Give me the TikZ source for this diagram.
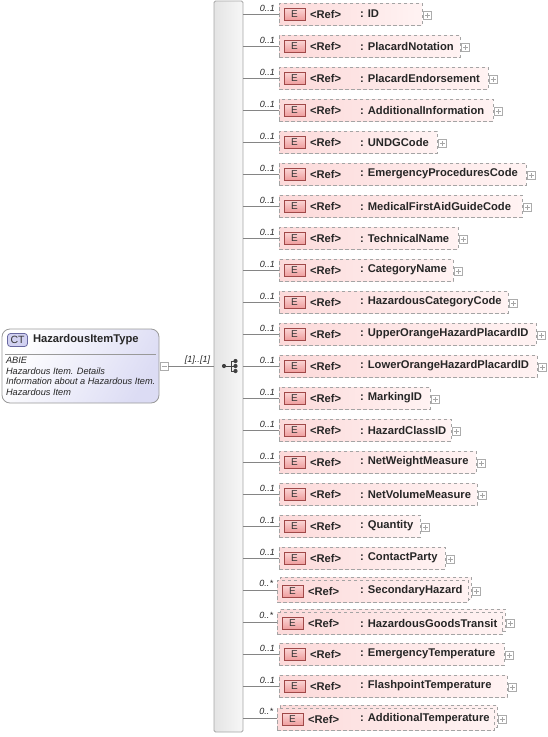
\documentclass[tikz,border=0pt]{standalone}
\usepackage{fontspec}
\setmainfont{Liberation Sans}
\definecolor{pinkL}{HTML}{FCDADA}
\definecolor{pinkR}{HTML}{FFF3F3}
\definecolor{dashgray}{HTML}{A4A4A4}
\definecolor{eBorder}{HTML}{A04848}
\definecolor{eTop}{HTML}{FAD4D4}
\definecolor{eBot}{HTML}{EE9C9C}
\definecolor{ctR}{HTML}{DCDCF4}
\definecolor{ctIcon}{HTML}{D2D2F2}
\definecolor{ctIconB}{HTML}{6868A0}
\definecolor{connGray}{HTML}{858585}
\definecolor{seqL}{HTML}{E4E4E4}
\definecolor{seqR}{HTML}{F7F7F7}
\begin{document}
\begin{tikzpicture}[x=1pt,y=-1pt,
  every node/.style={inner sep=0pt, outer sep=0pt},
  elbox/.style={draw=dashgray, line width=0.8pt, dash pattern=on 3.5pt off 2.5pt, left color=pinkL, right color=pinkR, minimum height=22pt},
  eicon/.style={draw=eBorder, line width=0.8pt, top color=eTop, bottom color=eBot, minimum width=21pt, minimum height=12pt, font=\fontsize{10}{10}\selectfont, text=black!80},
  reftxt/.style={font=\bfseries\fontsize{11.2}{13}\selectfont, text=black!85, anchor=west},
  card/.style={font=\itshape\fontsize{9}{10}\selectfont, text=black!85, anchor=south east},
  plusbox/.style={draw=gray!65, line width=0.6pt, fill=white, minimum size=8pt},
  conn/.style={draw=connGray, line width=0.8pt},
  seqbar/.style={draw=gray!70, line width=0.8pt, left color=seqL, right color=seqR, rounded corners=1.5pt},
  ctbox/.style={draw=gray!80, line width=0.8pt, rounded corners=8pt, top color=white, bottom color=ctR, shading angle=60},
  cticon/.style={draw=ctIconB, line width=0.8pt, fill=ctIcon, rounded corners=3pt, minimum width=20pt, minimum height=13pt, font=\fontsize{10.5}{11}\selectfont, text=black!80},
  desc/.style={font=\itshape\fontsize{9.2}{10}\selectfont, text=black!85, anchor=west},
]
\useasboundingbox (0,0) rectangle (548,737);
% sequence bar
\node[seqbar, minimum width=29pt, minimum height=731pt] (seq) at (228.5,366.5) {};
% sequence icon
\begin{scope}[fill=black!75, draw=black!75, line width=0.9pt]
  \fill (224,366) circle (2.1);
  \draw (224,366) -- (231,366);
  \draw (231,361) -- (231,371);
  \draw (231,361) -- (235,361);
  \draw (231,371) -- (235,371);
  \draw (231,366) -- (235,366);
  \fill (235.5,361) circle (2.1);
  \fill (235.5,366) circle (2.1);
  \fill (235.5,371) circle (2.1);
\end{scope}
% complex type box
\node[ctbox, minimum width=157pt, minimum height=74pt] (ct) at (80.5,366) {};
\node[cticon] (cti) at (17.5,340) {CT};
\node[reftxt] (ctt) at (33,340) {HazardousItemType};
\draw[gray!80, line width=0.7pt] (5,354) -- (156,354);
\node[desc] (d1) at (6,360.5) {ABIE};
\node[desc] (d2) at (6,371) {Hazardous Item. Details};
\node[desc] (d3) at (6,381.5) {Information about a Hazardous Item.};
\node[desc] (d4) at (6,392) {Hazardous Item};
\node[plusbox] (mn) at (164,366) {};
\draw[gray!70, line width=0.7pt] ([xshift=-2.5pt]mn.center) -- ([xshift=2.5pt]mn.center);
\draw[conn] (mn.east) -- (seq.west |- mn.east);
\node[card] (cc) at (210,364) {[1]..[1]};
% elements
\foreach \i/\nm/\r/\m in {0/ID/422/1, 1/PlacardNotation/460/1, 2/PlacardEndorsement/488/1,
  3/AdditionalInformation/493/1, 4/UNDGCode/437/1, 5/EmergencyProceduresCode/526/1,
  6/MedicalFirstAidGuideCode/522/1, 7/TechnicalName/458/1, 8/CategoryName/453/1,
  9/HazardousCategoryCode/508/1, 10/UpperOrangeHazardPlacardID/536/1,
  11/LowerOrangeHazardPlacardID/537/1, 12/MarkingID/430/1, 13/HazardClassID/451/1,
  14/NetWeightMeasure/476/1, 15/NetVolumeMeasure/477/1, 16/Quantity/420/1,
  17/ContactParty/445/1, 18/SecondaryHazard/471/2, 19/HazardousGoodsTransit/505/2,
  20/EmergencyTemperature/504/1, 21/FlashpointTemperature/507/1,
  22/AdditionalTemperature/497/2}{
  \pgfmathsetmacro\y{14+32*\i}
  \ifnum\m=1
    \pgfmathsetmacro\w{\r-279}
    \pgfmathsetmacro\cx{279+\w/2}
    \pgfmathsetmacro\yc{\y}
    \pgfmathsetmacro\xo{279}
    \node[elbox, minimum width=\w pt] (b\i) at (\cx,\y) {};
    \node[card] (c\i) at (275,\y-2) {0..1};
  \else
    \pgfmathsetmacro\w{\r-280}
    \pgfmathsetmacro\cx{280+\w/2}
    \pgfmathsetmacro\cxf{277+\w/2}
    \pgfmathsetmacro\yc{\y+1}
    \pgfmathsetmacro\xo{277}
    \node[elbox, minimum width=\w pt] (bb\i) at (\cx,\y-2) {};
    \node[elbox, minimum width=\w pt] (b\i) at (\cxf,\y+1) {};
    \node[card] (c\i) at (273,\y-3) {0..*};
  \fi
  \coordinate (j\i) at (\xo,\y);
  \draw[conn] (seq.east |- j\i) -- (j\i);
  \node[eicon] (e\i) at (\xo+15.5,\yc+0.5) {E};
  \node[reftxt] (r\i) at (\xo+31,\yc) {<Ref>};
  \node[reftxt] (n\i) at (360,\yc) {: \nm};
  \node[plusbox] (p\i) at (\r+5.5,\y+1) {};
  \draw[gray!70, line width=0.6pt] ([xshift=-2.5pt]p\i.center) -- ([xshift=2.5pt]p\i.center)
    ([yshift=-2.5pt]p\i.center) -- ([yshift=2.5pt]p\i.center);
}
\end{tikzpicture}
\end{document}
